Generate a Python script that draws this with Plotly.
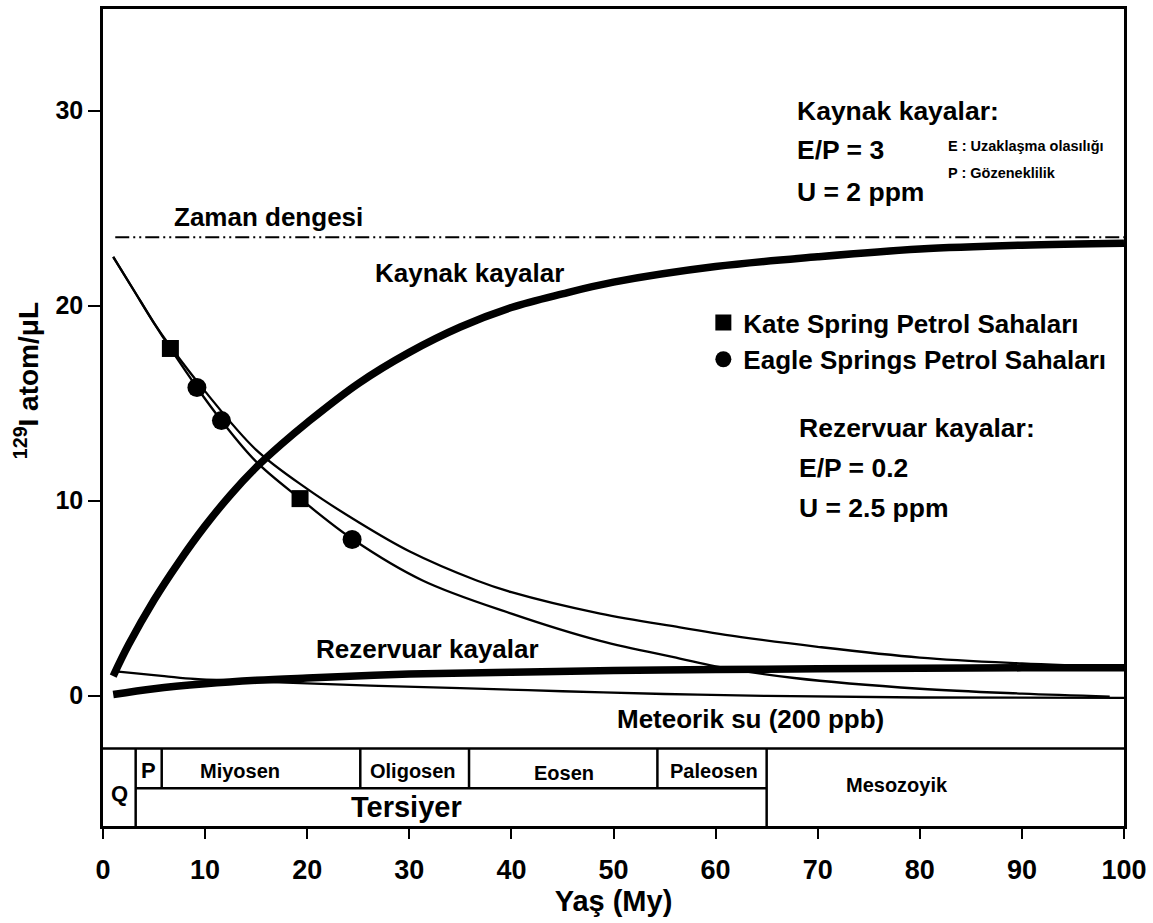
import plotly.graph_objects as go

# ---------------- data ----------------
age_kaynak = [1, 2.5, 5, 7.5, 10, 12.5, 15, 17.5, 20, 25, 30, 35, 40, 45, 50, 60, 70, 80, 90, 100]
iodine_kaynak = [1.0, 2.6, 4.9, 6.9, 8.7, 10.3, 11.7, 12.9, 14.0, 16.0, 17.6, 18.9, 19.9, 20.6, 21.2,
                 22.0, 22.5, 22.9, 23.1, 23.2]

age_rez = [1, 5, 10, 15, 20, 30, 40, 50, 60, 70, 80, 90, 100]
iodine_rez = [0.05, 0.35, 0.6, 0.78, 0.9, 1.1, 1.2, 1.28, 1.33, 1.37, 1.4, 1.42, 1.43]

age_upper = [1, 3, 5, 6.6, 10, 15, 20, 25, 30, 36.6, 40, 48.7, 56.5, 62.5, 70, 80, 90, 100]
iodine_upper = [22.5, 20.8, 19.1, 17.9, 15.6, 12.6, 10.6, 8.9, 7.4, 5.9, 5.3, 4.2, 3.5, 3.0, 2.5,
                1.95, 1.65, 1.45]

age_lower = [1, 3, 5, 6.6, 9.2, 11.6, 15, 19.3, 24.5, 31.3, 40, 48.7, 56.5, 60, 67.7, 80, 90, 98.6]
iodine_lower = [22.5, 20.8, 19.1, 17.8, 15.8, 14.1, 12.0, 10.1, 8.0, 5.9, 4.2, 2.8, 1.9, 1.5, 0.9,
                0.35, 0.1, -0.05]

age_meteoric = [1, 3, 6, 9, 15, 20, 27, 35, 45, 55, 65, 80, 100]
iodine_meteoric = [1.25, 1.15, 1.0, 0.85, 0.72, 0.62, 0.5, 0.38, 0.22, 0.08, -0.02, -0.1, -0.12]

age_equilibrium = [1.2, 100]
iodine_equilibrium = [23.5, 23.5]

kate_age = [6.6, 19.3]
kate_val = [17.8, 10.1]
eagle_age = [9.2, 11.6, 24.4]
eagle_val = [15.8, 14.1, 8.0]

x_ticks = [0, 10, 20, 30, 40, 50, 60, 70, 80, 90, 100]
y_ticks = [0, 10, 20, 30]

# geologic time scale (My)
epoch_names = ["P", "Miyosen", "Oligosen", "Eosen", "Paleosen"]
epoch_start = [3.2, 5.75, 25.2, 35.85, 54.3]
epoch_end = [5.75, 25.2, 35.85, 54.3, 65.0]
q_end = 3.2
tertiary_end = 65.0
age_max = 100

# ---------------- style / label placement ----------------
FONT = "Liberation Sans, Arial, Helvetica, sans-serif"
BLACK = "black"
Y_MIN, Y_MAX = -6.69, 35.21
BAR_TOP = -2.71
BAR_MID = -4.75
epoch_label_x = [4.5, 13.4, 30.4, 45.2, 59.8]
epoch_label_y = [-3.83, -3.88, -3.88, -3.99, -3.88]

fig = go.Figure()

fig.add_trace(go.Scatter(x=age_equilibrium, y=iodine_equilibrium, mode="lines",
                         line=dict(color=BLACK, width=2, dash="14px,4px,2px,4px,2px,4px"),
                         showlegend=False, hoverinfo="skip"))
fig.add_trace(go.Scatter(x=age_upper, y=iodine_upper, mode="lines", line_shape="spline",
                         line=dict(color=BLACK, width=2.3), showlegend=False))
fig.add_trace(go.Scatter(x=age_lower, y=iodine_lower, mode="lines", line_shape="spline",
                         line=dict(color=BLACK, width=2.3), showlegend=False))
fig.add_trace(go.Scatter(x=age_meteoric, y=iodine_meteoric, mode="lines", line_shape="spline",
                         line=dict(color=BLACK, width=2.3), showlegend=False))
fig.add_trace(go.Scatter(x=age_kaynak, y=iodine_kaynak, mode="lines", line_shape="spline",
                         line=dict(color=BLACK, width=7.5), showlegend=False))
fig.add_trace(go.Scatter(x=age_rez, y=iodine_rez, mode="lines", line_shape="spline",
                         line=dict(color=BLACK, width=7.5), showlegend=False))
fig.add_trace(go.Scatter(x=kate_age, y=kate_val, mode="markers", name="Kate Spring Petrol Sahaları",
                         marker=dict(symbol="square", size=17, color=BLACK)))
fig.add_trace(go.Scatter(x=eagle_age, y=eagle_val, mode="markers", name="Eagle Springs Petrol Sahaları",
                         marker=dict(symbol="circle", size=19, color=BLACK)))

# ---------------- geologic time bar ----------------
shapes = []
line_style = dict(color=BLACK, width=2.5)
shapes.append(dict(type="line", xref="x", yref="y", x0=0, x1=age_max, y0=BAR_TOP, y1=BAR_TOP, line=line_style))
shapes.append(dict(type="line", xref="x", yref="y", x0=q_end, x1=tertiary_end, y0=BAR_MID, y1=BAR_MID, line=line_style))
shapes.append(dict(type="line", xref="x", yref="y", x0=q_end, x1=q_end, y0=BAR_TOP, y1=Y_MIN, line=line_style))
shapes.append(dict(type="line", xref="x", yref="y", x0=tertiary_end, x1=tertiary_end, y0=BAR_TOP, y1=Y_MIN, line=line_style))
for e in epoch_end[:-1]:
    shapes.append(dict(type="line", xref="x", yref="y", x0=e, x1=e, y0=BAR_TOP, y1=BAR_MID, line=line_style))

annotations = []


def txt(x, y, text, size, xanchor="center", xref="x", yref="y", angle=0):
    annotations.append(dict(x=x, y=y, xref=xref, yref=yref, text=text, showarrow=False,
                            xanchor=xanchor, yanchor="middle", textangle=angle,
                            font=dict(family=FONT, size=size, color=BLACK, weight="bold")))


txt(1.6, -5.0, "Q", 22)
for name, lx, ly in zip(epoch_names, epoch_label_x, epoch_label_y):
    txt(lx, ly, name, 22 if name == "P" else 20)
txt(29.7, -5.72, "Tersiyer", 29)
txt(77.8, -4.6, "Mesozoyik", 20)

txt(16.2, 24.55, "Zaman dengesi", 26)
txt(35.9, 21.65, "Kaynak kayalar", 26)
txt(31.8, 2.4, "Rezervuar kayalar", 26)
txt(63.4, -1.18, "Meteorik su (200 ppb)", 26)

txt(67.8, 30.0, "Kaynak kayalar:", 26.5, "left")
txt(67.8, 28.0, "E/P = 3", 26.5, "left")
txt(67.8, 25.85, "U = 2 ppm", 26.5, "left")
txt(82.6, 28.2, "E : Uzaklaşma olasılığı", 14.5, "left")
txt(82.6, 26.8, "P : Gözeneklilik", 14.5, "left")

txt(68.0, 13.7, "Rezervuar kayalar:", 26.5, "left")
txt(68.0, 11.65, "E/P = 0.2", 26.5, "left")
txt(68.0, 9.6, "U = 2.5 ppm", 26.5, "left")

txt(-0.075, 0.545, "<sup>129</sup>I atom/μL", 28, "center", "paper", "paper", -90)

fig.update_layout(
    width=1153, height=923,
    margin=dict(l=103, r=29, t=6, b=97),
    paper_bgcolor="white", plot_bgcolor="white",
    shapes=shapes, annotations=annotations,
    showlegend=True,
    legend=dict(x=0.588, y=0.645, xanchor="left", yanchor="top", bgcolor="rgba(0,0,0,0)",
                font=dict(family=FONT, size=26, color=BLACK, weight="bold"), tracegroupgap=0),
    xaxis=dict(range=[0, 100], tickvals=x_ticks, showgrid=False, zeroline=False,
               showline=True, linecolor=BLACK, linewidth=2.5, mirror=True,
               ticks="outside", ticklen=10, tickwidth=2, tickcolor=BLACK, ticklabelstandoff=8,
               tickfont=dict(family=FONT, size=27, color=BLACK, weight="bold"),
               title=dict(text="Yaş (My)", standoff=2,
                          font=dict(family=FONT, size=29, color=BLACK, weight="bold"))),
    yaxis=dict(range=[Y_MIN, Y_MAX], tickvals=y_ticks, showgrid=False, zeroline=False,
               showline=True, linecolor=BLACK, linewidth=2.5, mirror=True,
               ticks="outside", ticklen=12, tickwidth=2, tickcolor=BLACK,
               tickfont=dict(family=FONT, size=25, color=BLACK, weight="bold")),
)

fig.write_html("out.html", config={"displayModeBar": False},
               post_script="document.body.style.margin='0px';")
